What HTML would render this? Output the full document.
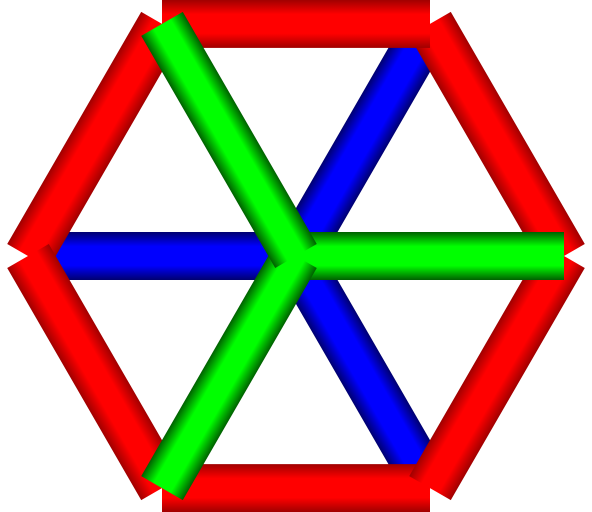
<!DOCTYPE html>
<html><head><meta charset="utf-8"><style>
html,body{margin:0;padding:0;background:#fff;width:592px;height:512px;overflow:hidden}
svg{display:block}
</style></head><body>
<svg id="chart" width="592" height="512" viewBox="0 0 592 512" xmlns="http://www.w3.org/2000/svg">
<defs>
<linearGradient id="gr" x1="0" y1="0" x2="0" y2="1"><stop offset="0" stop-color="#a00000"/><stop offset="0.3" stop-color="#ff0000"/><stop offset="0.7" stop-color="#ff0000"/><stop offset="1" stop-color="#a00000"/></linearGradient>
<linearGradient id="gb" x1="0" y1="0" x2="0" y2="1"><stop offset="0" stop-color="#000070"/><stop offset="0.3" stop-color="#0000ff"/><stop offset="0.7" stop-color="#0000ff"/><stop offset="1" stop-color="#000070"/></linearGradient>
<linearGradient id="gg" x1="0" y1="0" x2="0" y2="1"><stop offset="0" stop-color="#006000"/><stop offset="0.3" stop-color="#00ff00"/><stop offset="0.7" stop-color="#00ff00"/><stop offset="1" stop-color="#006000"/></linearGradient>
</defs>
<g id="bars"></g>
</svg>
<script>
const cx = 296, cy = 256, R = 268, W = 48;
const redAngles = [0, 60, 120, 180, 240, 300];
const blueAngles = [180, 300, 60];
const blueLengths = [268, 268, 268];
const greenAngles = [0, 240, 120];
const greenLengths = [268, 268, 268];
const g = document.getElementById('bars');
function vert(a){const r=a*Math.PI/180;return [cx+R*Math.cos(r), cy-R*Math.sin(r)];}
function bar(x1,y1,x2,y2,fill,name){
  const L=Math.hypot(x2-x1,y2-y1), ang=Math.atan2(y2-y1,x2-x1)*180/Math.PI;
  const r=document.createElementNS('http://www.w3.org/2000/svg','rect');
  r.setAttribute('x',0);r.setAttribute('y',-W/2);r.setAttribute('width',L);r.setAttribute('height',W);
  r.setAttribute('fill',fill);
  r.setAttribute('transform','translate('+x1+','+y1+') rotate('+ang+')');
  
  
  g.appendChild(r);
}
blueAngles.forEach((a,i)=>{
  const r=a*Math.PI/180, L=blueLengths[i];
  bar(cx,cy,cx+L*Math.cos(r),cy-L*Math.sin(r),'url(#gb)','blue-spoke-'+i);
});
redAngles.forEach((a,i)=>{
  const p=vert(a), q=vert(redAngles[(i+1)%6]);
  bar(p[0],p[1],q[0],q[1],'url(#gr)','red-edge-'+i);
});
greenAngles.forEach((a,i)=>{
  const r=a*Math.PI/180, L=greenLengths[i];
  bar(cx,cy,cx+L*Math.cos(r),cy-L*Math.sin(r),'url(#gg)','green-spoke-'+i);
});
</script>
</body></html>
